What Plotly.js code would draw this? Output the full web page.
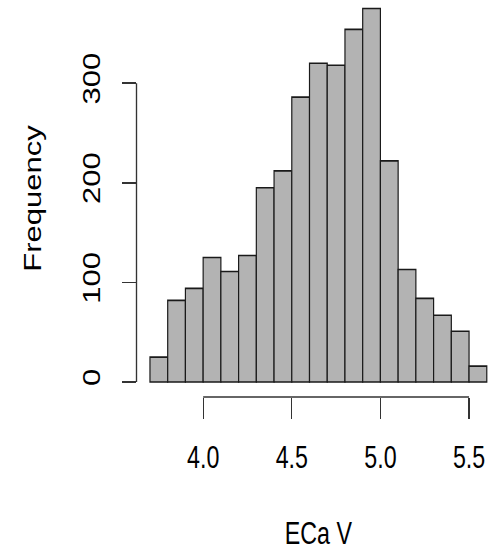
<!DOCTYPE html>
<html>
<head>
<meta charset="utf-8">
<script src="https://cdn.plot.ly/plotly-3.0.1.min.js"></script>
<style>
html,body{margin:0;padding:0;background:#fff;overflow:hidden;width:501px;height:551px;}
#wrap{width:668px;height:551px;transform:scaleX(0.75);transform-origin:0 0;}
</style>
</head>
<body>
<div id="wrap"></div>
<script>
// Histogram of ECa V: bin left edges (width 0.1) and counts
const binStart = [3.7,3.8,3.9,4.0,4.1,4.2,4.3,4.4,4.5,4.6,4.7,4.8,4.9,5.0,5.1,5.2,5.3,5.4,5.5];
const binWidth = 0.1;
const counts   = [25,82,94,125,111,127,195,212,286,320,318,354,375,222,113,84,67,51,16];
const xTicks = [4.0,4.5,5.0,5.5];
const xTickText = ["4.0","4.5","5.0","5.5"];
const yTicks = [0,100,200,300];
const yTickText = ["0","100","200","300"];

const mids = binStart.map(s => s + binWidth/2);

const trace = {
  type: 'bar',
  x: mids,
  y: counts,
  width: binStart.map(() => binWidth),
  marker: {color: '#b3b3b3', line: {color: '#1a1a1a', width: 1.6}},
  hoverinfo: 'x+y'
};

const font = {family: '"Liberation Sans", Arimo, Arial, sans-serif', size: 31, color: '#000'};

const layout = {
  width: 668, height: 551,
  margin: {l: 182, r: 1, t: 0, b: 154},
  paper_bgcolor: '#fff', plot_bgcolor: '#fff',
  showlegend: false,
  bargap: 0,
  font: font,
  xaxis: {
    range: [3.624, 5.676],
    showgrid: false, zeroline: false, showline: false,
    ticks: 'outside', ticklen: 21, tickwidth: 1.6, tickcolor: '#333',
    tickvals: xTicks, ticktext: xTickText,
    ticklabelstandoff: 12,
    tickfont: font,
    title: {text: 'ECa V', font: font, standoff: 52}
  },
  yaxis: {
    range: [-15, 383.5],
    showgrid: false, zeroline: false, showline: false,
    ticks: 'outside', ticklen: 19, tickwidth: 1.4, tickcolor: '#333',
    tickvals: yTicks, ticktext: yTickText,
    tickangle: -90,
    ticklabelstandoff: 16,
    tickfont: font,
    title: {text: 'Frequency', font: font, standoff: 40}
  },
  shapes: [
    {type: 'line', xref: 'x', yref: 'paper', x0: xTicks[0], x1: xTicks[xTicks.length-1], y0: 0, y1: 0,
     line: {color: '#333', width: 1.4}},
    {type: 'line', xref: 'paper', yref: 'y', x0: 0, x1: 0, y0: yTicks[0], y1: yTicks[yTicks.length-1],
     line: {color: '#333', width: 1.8}}
  ]
};

Plotly.newPlot('wrap', [trace], layout, {displayModeBar: false, staticPlot: true});
</script>
</body>
</html>
